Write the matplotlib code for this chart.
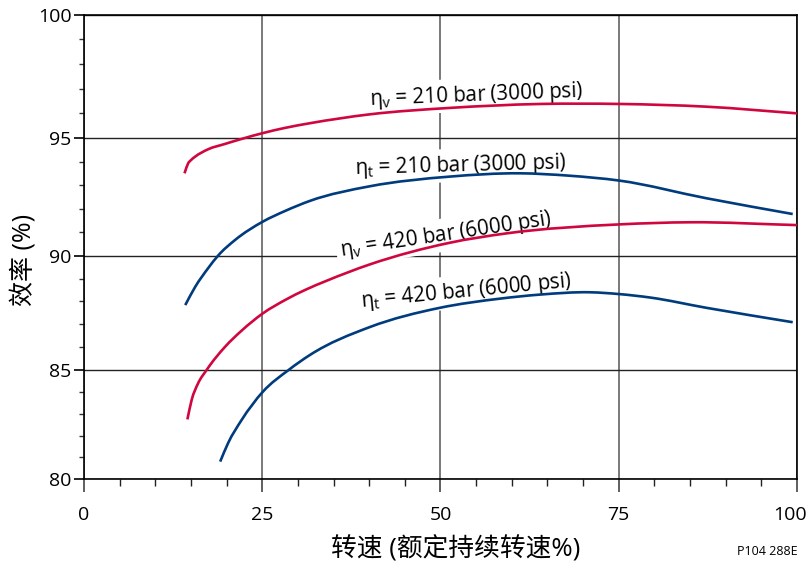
import numpy as np
import matplotlib
matplotlib.use("Agg")
import matplotlib.pyplot as plt
from matplotlib.ticker import MultipleLocator
from matplotlib.path import Path
from matplotlib.patches import PathPatch
from matplotlib.transforms import ScaledTranslation

plt.rcParams['font.family'] = ['Open Sans', 'Noto Sans CJK SC', 'DejaVu Sans']
plt.rcParams['mathtext.fontset'] = 'custom'
plt.rcParams['mathtext.rm'] = 'Open Sans'
plt.rcParams['mathtext.it'] = 'Open Sans'

# readings: speed (% of rated) -> efficiency (%)
speed_v210 = [14.1, 14.6, 15.0, 15.6, 17.4, 19.8, 22.1, 25.1, 28.2, 31.7, 40.1, 51.3, 64.0, 75.2, 87.3, 100]
eff_v210 = [93.50, 93.92, 94.06, 94.21, 94.52, 94.75, 94.96, 95.20, 95.41, 95.60, 95.96, 96.22, 96.38, 96.38, 96.27, 96.00]

speed_t210 = [14.2, 15.6, 17.4, 18.8, 21.2, 25.1, 28.2, 31.7, 40.1, 51.3, 61.2, 68.0, 75.1, 87.3, 99.4]
eff_t210 = [87.84, 88.64, 89.45, 90.00, 90.67, 91.45, 91.90, 92.33, 92.95, 93.36, 93.50, 93.40, 93.19, 92.44, 91.77]

speed_v420 = [14.5, 15.1, 16.0, 17.2, 19.8, 22.1, 25.1, 28.2, 31.0, 34.0, 40.1, 51.3, 59.3, 75.1, 85.0, 100]
eff_v420 = [82.74, 83.63, 84.39, 85.00, 86.02, 86.72, 87.48, 88.06, 88.50, 88.90, 89.62, 90.55, 90.95, 91.33, 91.42, 91.30]

speed_t420 = [19.1, 20.2, 22.1, 25.1, 28.7, 31.7, 40.1, 49.9, 58.3, 64.0, 71.0, 75.1, 79.4, 87.3, 99.4]
eff_t420 = [80.81, 81.65, 82.71, 84.01, 85.00, 85.66, 86.88, 87.72, 88.12, 88.30, 88.40, 88.32, 88.17, 87.72, 87.09]

curve_labels = [r'$\eta_{\rm v}$ = 210 bar (3000 psi)', r'$\eta_{\rm t}$ = 210 bar (3000 psi)',
                r'$\eta_{\rm v}$ = 420 bar (6000 psi)', r'$\eta_{\rm t}$ = 420 bar (6000 psi)']

x_ticks = [0, 25, 50, 75, 100]
y_ticks = [80, 85, 90, 95, 100]

RED = '#d0063f'
BLUE = '#003b7e'

# the printed y axis is not evenly spaced; these are the tick spacings (px)
y_pos = [0, 109.3, 223.6, 341.3, 464.6]


def fwd(v):
    return np.interp(v, y_ticks, y_pos)


def inv(v):
    return np.interp(v, y_pos, y_ticks)


def smooth_path(xs, ys):
    '''Cubic Bezier path through the read points, slopes from np.gradient.'''
    x = np.asarray(xs, float)
    y = np.asarray(ys, float)
    m = np.gradient(y, x)
    verts = [(x[0], y[0])]
    codes = [Path.MOVETO]
    for i in range(len(x) - 1):
        h = (x[i + 1] - x[i]) / 3
        verts += [(x[i] + h, y[i] + m[i] * h),
                  (x[i + 1] - h, y[i + 1] - m[i + 1] * h),
                  (x[i + 1], y[i + 1])]
        codes += [Path.CURVE4] * 3
    return Path(verts, codes)


fig = plt.figure(figsize=(8.12, 5.66), dpi=100)
ax = fig.add_axes([84 / 812, (566 - 479.3) / 566, 713 / 812, 464.6 / 566])
ax.set_yscale('function', functions=(fwd, inv))
ax.set_xlim(0, 100)
ax.set_ylim(80, 100)

ax.set_xticks(x_ticks, labels=[str(v) for v in x_ticks])
ax.set_yticks(y_ticks, labels=[str(v) for v in y_ticks])
ax.xaxis.set_minor_locator(MultipleLocator(5))
ax.yaxis.set_minor_locator(MultipleLocator(1))
ax.tick_params(axis='x', which='major', length=9.5, width=1.2, pad=10,
               labelsize=14, color='#444')
ax.tick_params(axis='x', which='minor', length=5, width=1, color='#222')
ax.tick_params(axis='y', which='major', length=7, width=1.2, pad=2, labelsize=14)
ax.tick_params(axis='y', which='minor', length=3.5, width=1, color='#333')

# the last x label sits a little left of its tick so it stays on the page
last = ax.get_xticklabels()[-1]
last.set_transform(last.get_transform() + ScaledTranslation(-0.07, 0, fig.dpi_scale_trans))

ax.xaxis.grid(True, which='major', color='#555', lw=1.1, zorder=1)
ax.yaxis.grid(True, which='major', color='#222', lw=1.0, zorder=1)
ax.set_axisbelow(True)
for sp in ax.spines.values():
    sp.set_linewidth(1.2)

for xs, ys, col in [(speed_v210, eff_v210, RED), (speed_t210, eff_t210, BLUE),
                    (speed_v420, eff_v420, RED), (speed_t420, eff_t420, BLUE)]:
    ax.add_patch(PathPatch(smooth_path(xs, ys), facecolor='none', edgecolor=col,
                           lw=1.9, zorder=4, capstyle='butt'))

label_x = [55.0, 52.8, 50.9, 53.7]
label_y = [96.52, 93.6, 90.66, 88.2]
label_rot = [2.2, 1.5, 8.5, 5.5]
for txt, lx, ly, rot in zip(curve_labels, label_x, label_y, label_rot):
    ax.text(lx, ly, txt, rotation=rot, rotation_mode='anchor', ha='center',
            va='baseline', fontsize=14.8, zorder=3,
            bbox=dict(facecolor='white', edgecolor='none', pad=3))

fig.text(456 / 812, 1 - 549 / 566, '转速 (额定持续转速%)', ha='center', va='center', fontsize=18.5)
fig.text(24 / 812, 1 - 260 / 566, '效率 (%)', rotation=90, ha='center', va='center', fontsize=18)
fig.text(798 / 812, 1 - 555 / 566, 'P104 288E', ha='right', va='baseline', fontsize=9)

fig.savefig('out.png', dpi=100, facecolor='white')
